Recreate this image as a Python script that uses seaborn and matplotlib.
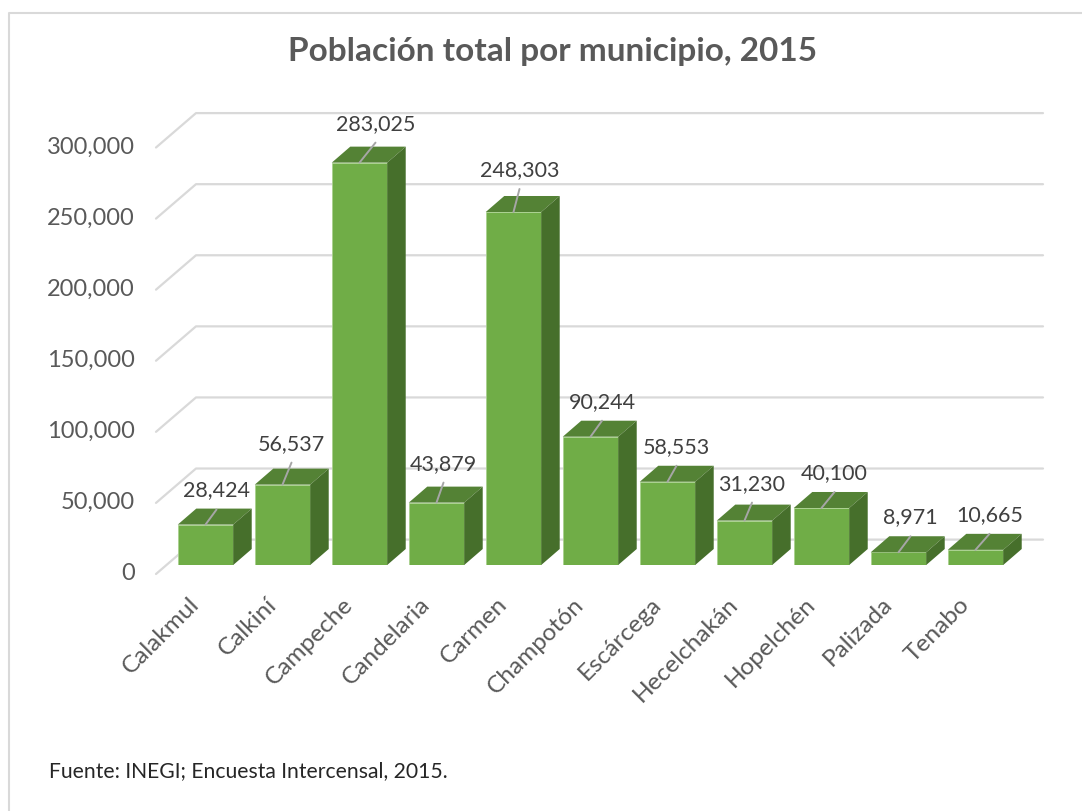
import seaborn as sns
import matplotlib.pyplot as plt
import pandas as pd
from matplotlib.patches import Polygon
from matplotlib.transforms import ScaledTranslation

municipios = ['Calakmul', 'Calkiní', 'Campeche', 'Candelaria', 'Carmen', 'Champotón',
              'Escárcega', 'Hecelchakán', 'Hopelchén', 'Palizada', 'Tenabo']
poblacion = [28424, 56537, 283025, 43879, 248303, 90244, 58553, 31230, 40100, 8971, 10665]
ticks = [0, 50000, 100000, 150000, 200000, 250000, 300000]

# hand placed value labels in the original: pixels right of the bar centre / above the bar top
label_dx = [11, 9, 16, 7, 6, 11.5, 9, 7.5, 13, 12, 14]
label_dy = [35, 42, 40, 40, 43, 36, 36, 38, 36, 36, 36]

W, H = 1082, 812
GREEN = '#70AD47'
TOP = '#548235'
SIDE = '#466F2B'
TEXT = '#595959'

sns.set_theme(style='white')
plt.rcParams['font.family'] = ['Lato', 'DejaVu Sans']

df = pd.DataFrame({'Municipio': municipios, 'Poblacion': poblacion})

fig = plt.figure(figsize=(W / 100, H / 100), dpi=100)
ax = fig.add_axes([167 / W, 1 - 566 / H, 847 / W, 426.5 / H])
sns.barplot(data=df, x='Municipio', y='Poblacion', color=GREEN, saturation=1, width=0.72,
            edgecolor='#A9D18E', linewidth=0.6, zorder=3, ax=ax)
ax.set_xlim(-0.5, 10.5)
ax.set_ylim(0, 300000)
sns.despine(ax=ax, left=True, bottom=True)
ax.patch.set_alpha(0)

# depth of the fake 3D look, in data units
px_x = 1 / 77.0
px_y = 300000 / 426.5
dx, dy = 18.5 * px_x, 16 * px_y

# back wall grid with the diagonal on the left side wall
x0, x1 = -0.5, 10.5
for t in ticks:
    ax.plot([x0 - 11 * px_x, x0 + 29 * px_x, x1 + 29 * px_x],
            [t - 9 * px_y, t + 25.4 * px_y, t + 25.4 * px_y],
            color='#D9D9D9', lw=1.6, clip_on=False, zorder=1)

# top and side faces, then the value label with its leader line
for bar, val, ldx, ldy in zip(ax.patches, poblacion, label_dx, label_dy):
    x, w, h = bar.get_x(), bar.get_width(), bar.get_height()
    ax.add_patch(Polygon([(x, h), (x + dx, h + dy), (x + w + dx, h + dy), (x + w, h)],
                         fc=TOP, ec='none', clip_on=False, zorder=3))
    ax.add_patch(Polygon([(x + w, 0), (x + w + dx, dy), (x + w + dx, h + dy), (x + w, h)],
                         fc=SIDE, ec='none', clip_on=False, zorder=3))
    cx = x + w / 2
    ax.plot([cx, cx + ldx * px_x], [h, h + (ldy - 20) * px_y], color='#A6A6A6', lw=1.4,
            clip_on=False, zorder=4)
    ax.text(cx + ldx * px_x, h + ldy * px_y, f'{val:,}', ha='center', va='center',
            fontsize=15.5, color='#404040', clip_on=False, zorder=5)

ax.set_xlabel('')
ax.set_ylabel('')
ax.set_yticks(ticks)
ax.set_yticklabels([f'{t:,}' for t in ticks], fontsize=17, color=TEXT)
ax.tick_params(axis='y', length=0, pad=23)
shift = ScaledTranslation(0, -5.5 / 100, fig.dpi_scale_trans)
for lab in ax.get_yticklabels():
    lab.set_transform(lab.get_transform() + shift)

ax.set_xticks(range(len(municipios)))
ax.set_xticklabels(municipios, rotation=45, ha='right', rotation_mode='anchor',
                   fontsize=17.6, color=TEXT)
ax.tick_params(axis='x', length=0, pad=20)
shift = ScaledTranslation(-17 / 100, 0, fig.dpi_scale_trans)
for lab in ax.get_xticklabels():
    lab.set_transform(lab.get_transform() + shift)

fig.text(553 / W, 1 - 51 / H, 'Población total por municipio, 2015', ha='center', va='center',
         fontsize=24, fontweight='bold', color='#595959')
fig.text(49 / W, 1 - 771 / H, 'Fuente: INEGI; Encuesta Intercensal, 2015.', ha='left', va='center',
         fontsize=15.2, color='#262626')

# only the top and left edge of the frame show in the original
fig.add_artist(plt.Line2D([8.5 / W, 8.5 / W, 1], [0, 1 - 13.5 / H, 1 - 13.5 / H],
                          color='#D9D9D9', lw=1.5))

fig.savefig('out.png', dpi=100)
